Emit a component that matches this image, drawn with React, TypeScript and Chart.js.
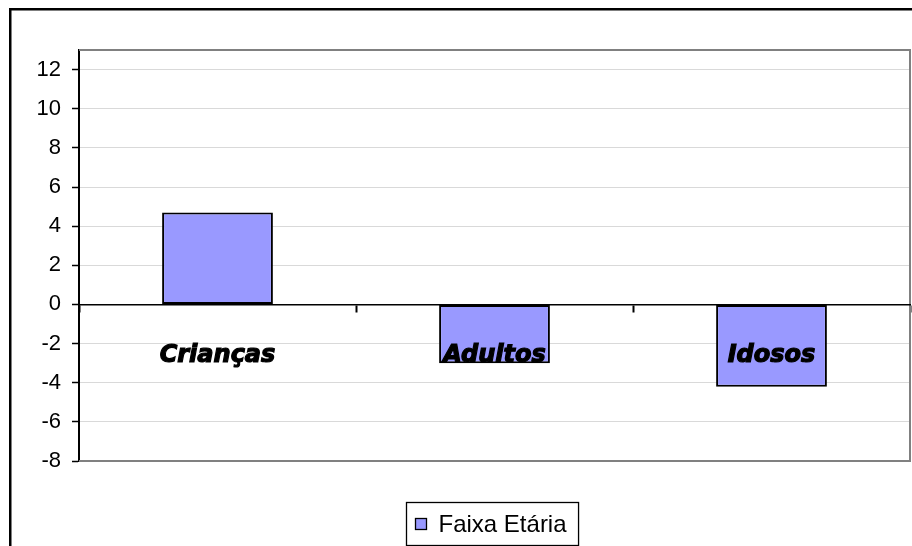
import React, { useEffect, useRef } from "react";
import { Chart, registerables } from "chart.js";

Chart.register(...registerables);

const categories = ["Crianças", "Adultos", "Idosos"];
const seriesValues = [4.7, -3, -4.2];
const seriesLabel = "Faixa Etária";
const yTickValues = [-8, -6, -4, -2, 0, 2, 4, 6, 8, 10, 12];
const yMin = -8;
const yMax = 13;

const BAR_COLOR = "#9999ff";

const framePlugin = {
  id: "frameAndLegend",
  beforeDatasetsDraw(chart: any) {
    const { ctx, chartArea } = chart;
    ctx.save();
    ctx.strokeStyle = "#808080";
    ctx.lineWidth = 2;
    ctx.beginPath();
    ctx.moveTo(chartArea.left, chartArea.top);
    ctx.lineTo(chartArea.right, chartArea.top);
    ctx.lineTo(chartArea.right, chartArea.bottom);
    ctx.lineTo(chartArea.left, chartArea.bottom);
    ctx.stroke();
    ctx.restore();
  },
  afterDraw(chart: any) {
    const { ctx, chartArea, width, height } = chart;
    ctx.save();
    // outer frame (top and left visible)
    ctx.fillStyle = "#000";
    ctx.fillRect(1, 0, 2.5, height);
    ctx.fillRect(1, 0, width, 2.5);

    // legend
    const ds = chart.data.datasets[0];
    ctx.font = "24px 'Liberation Sans', Arial, sans-serif";
    const tw = ctx.measureText(ds.label).width;
    const box = 11;
    const padL = 9;
    const gap = 12;
    const padR = 12;
    const w = padL + box + gap + tw + padR;
    const h = 43;
    const cx = (chartArea.left + chartArea.right) / 2 - 2;
    const x0 = Math.round(cx - w / 2) + 0.5;
    const y0 = 494.5;
    ctx.strokeStyle = "#000";
    ctx.lineWidth = 1.3;
    ctx.fillStyle = "#fff";
    ctx.fillRect(x0, y0, w, h);
    ctx.strokeRect(x0, y0, w, h);
    const my = y0 + h / 2;
    ctx.fillStyle = ds.backgroundColor;
    ctx.fillRect(x0 + padL, my - box / 2, box, box);
    ctx.strokeRect(x0 + padL, my - box / 2, box, box);
    ctx.fillStyle = "#000";
    ctx.textBaseline = "middle";
    ctx.textAlign = "left";
    ctx.fillText(ds.label, x0 + padL + box + gap, my + 1);
    ctx.restore();
  },
};

export default function App() {
  const ref = useRef<HTMLCanvasElement | null>(null);

  useEffect(() => {
    document.documentElement.style.overflow = "hidden";
    document.body.style.margin = "8px 0 0 8px";
    const canvas = ref.current;
    if (!canvas) return;
    const chart = new Chart(canvas, {
      type: "bar",
      data: {
        labels: categories,
        datasets: [
          {
            label: seriesLabel,
            data: seriesValues,
            backgroundColor: BAR_COLOR,
            borderColor: "#000",
            borderWidth: 2,
            borderSkipped: false,
            barPercentage: 0.4,
            categoryPercentage: 1,
          },
        ],
      },
      options: {
        responsive: false,
        animation: false,
        layout: { padding: { top: 42, right: 2, bottom: 85, left: 0 } },
        plugins: {
          legend: { display: false },
          tooltip: { enabled: false },
          title: { display: false },
        },
        scales: {
          x: {
            type: "category",
            position: { y: 0 } as any,
            offset: true,
            grid: {
              offset: true,
              drawOnChartArea: false,
              drawTicks: true,
              tickLength: 7,
              tickColor: "#000",
              tickWidth: 2,
            },
            border: { color: "#000", width: 1.5, z: 1 },
            ticks: {
              z: 1,
              padding: 30,
              color: "#000",
              textStrokeColor: "#000",
              textStrokeWidth: 1.2,
              maxRotation: 0,
              autoSkip: false,
              font: {
                family: "'DejaVu Sans', sans-serif",
                size: 24,
                weight: "bold",
                style: "italic",
              },
            },
          },
          y: {
            type: "linear",
            min: yMin,
            max: yMax,
            afterBuildTicks: (s: any) => {
              s.ticks = yTickValues.map((value) => ({ value }));
            },
            afterFit: (s: any) => {
              s.width = 71;
            },
            grid: {
              color: "#d9d9d9",
              lineWidth: 1,
              drawTicks: true,
              tickLength: 7,
              tickColor: "#000",
              tickWidth: 1.5,
            },
            border: { color: "#000", width: 2 },
            ticks: {
              padding: 11,
              color: "#000",
              font: { family: "'Liberation Sans', Arial, sans-serif", size: 22 },
            },
          },
        },
      },
      plugins: [framePlugin],
    });
    return () => chart.destroy();
  }, []);

  return (
    <div style={{ width: 904, height: 538 }}>
      <canvas ref={ref} width={904} height={538} style={{ display: "block" }} />
    </div>
  );
}
